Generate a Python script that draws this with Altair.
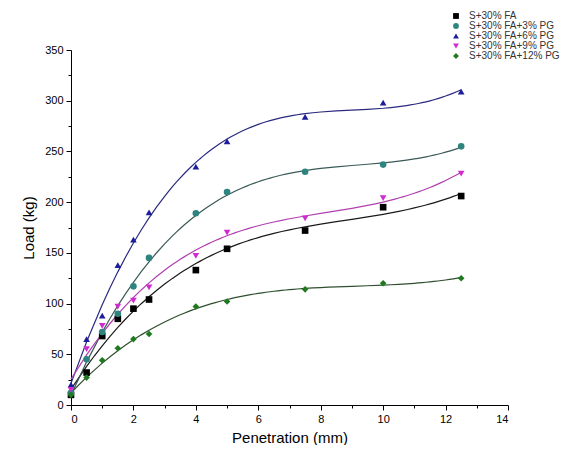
import altair as alt
import pandas as pd

penetration = [0, 0.5, 1, 1.5, 2, 2.5, 4, 5, 7.5, 10, 12.5]
series_names = ["S+30% FA", "S+30% FA+3% PG", "S+30% FA+6% PG", "S+30% FA+9% PG", "S+30% FA+12% PG"]
load_fa = [10, 32, 68, 85, 95, 104, 133, 154, 172, 195, 206]
load_pg3 = [12, 45, 72, 90, 117, 145, 189, 210, 230, 237, 255]
load_pg6 = [20, 65, 88, 138, 163, 190, 235, 260, 284, 298, 309]
load_pg9 = [15, 55, 78, 97, 103, 116, 147, 170, 184, 204, 228]
load_pg12 = [10, 27, 44, 56, 65, 70, 97, 102, 114, 120, 125]

marker_colors = ["#000000", "#2e8580", "#1c1c9c", "#d02ad0", "#1f7a1f"]
line_colors = ["#1a1a1a", "#3a5a58", "#2a2a80", "#b040b0", "#2f4f2f"]
shapes = ["square", "circle", "triangle-up", "triangle-down", "diamond"]

rows = []
for name, vals in zip(series_names, [load_fa, load_pg3, load_pg6, load_pg9, load_pg12]):
    for x, y in zip(penetration, vals):
        rows.append({"Penetration": x, "Load": y, "Series": name})
df = pd.DataFrame(rows)

xscale = alt.Scale(domain=[0, 14], nice=False)
yscale = alt.Scale(domain=[0, 350], nice=False)

axis_common = dict(
    domainColor="#000000", tickColor="#000000", labelColor="#000000",
    titleColor="#000000", labelFont="Liberation Sans", titleFont="Liberation Sans",
    labelFontSize=11, titleFontSize=15, titleFontWeight="normal", grid=False,
    domainWidth=1, tickWidth=1,
)

xaxis = alt.Axis(values=list(range(0, 15, 2)), tickSize=5, title="Penetration (mm)",
                 titlePadding=6, labelPadding=3, orient="bottom", **axis_common)
yaxis = alt.Axis(values=list(range(0, 351, 50)), tickSize=5, title="Load (kg)",
                 titlePadding=8, labelPadding=3, orient="left", **axis_common)

minor_x = alt.Axis(values=list(range(1, 14, 2)), tickSize=3, labels=False, title=None,
                   domain=False, orient="bottom", grid=False, tickColor="#000000")
minor_y = alt.Axis(values=list(range(25, 350, 50)), tickSize=3, labels=False, title=None,
                   domain=False, orient="left", grid=False, tickColor="#000000")

legend_obj = alt.Legend(title=None, orient="none", legendX=380, legendY=-39,
                        labelFontSize=10, labelFont="Liberation Sans",
                        labelColor="#333333", symbolSize=34, rowPadding=-1,
                        labelOffset=8)

base = alt.Chart(df)

points = base.mark_point(filled=True, size=44, opacity=1).encode(
    x=alt.X("Penetration:Q", scale=xscale, axis=xaxis),
    y=alt.Y("Load:Q", scale=yscale, axis=yaxis),
    color=alt.Color("Series:N", scale=alt.Scale(domain=series_names, range=marker_colors),
                    sort=series_names, legend=legend_obj),
    shape=alt.Shape("Series:N", scale=alt.Scale(domain=series_names, range=shapes),
                    sort=series_names, legend=legend_obj),
)

line_layers = []
for i, (name, lc) in enumerate(zip(series_names, line_colors)):
    ax_x = minor_x if i == 0 else None
    ax_y = minor_y if i == 0 else None
    layer = base.transform_filter(alt.datum.Series == name).transform_regression(
        "Penetration", "Load", method="poly", order=3, extent=[0, 12.5]
    ).mark_line(strokeWidth=1.2, color=lc).encode(
        x=alt.X("Penetration:Q", scale=xscale, axis=ax_x),
        y=alt.Y("Load:Q", scale=yscale, axis=ax_y),
    )
    line_layers.append(layer)

chart = alt.layer(*line_layers, points).resolve_axis(x="independent", y="independent").properties(
    width=437, height=355,
    autosize=alt.AutoSizeParams(type="none"),
    padding={"left": 63, "top": 42, "right": 71, "bottom": 40},
).configure_view(stroke=None)

chart.save("out.html", embed_options={"renderer": "svg", "actions": False})
